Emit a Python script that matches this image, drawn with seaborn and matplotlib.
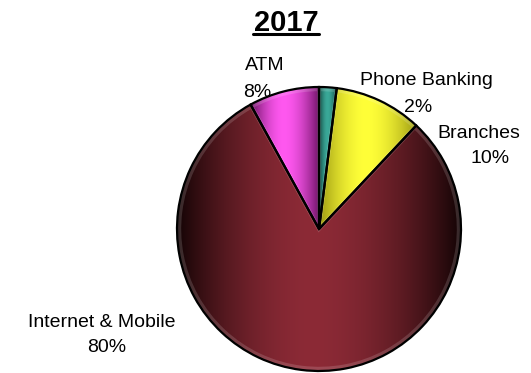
import numpy as np
import matplotlib
matplotlib.use("Agg")
import matplotlib.pyplot as plt
from matplotlib.lines import Line2D
from matplotlib.patches import Wedge
import seaborn as sns

# Channel shares for 2017 (percent)
title = "2017"
channels = ["Phone Banking", "Branches", "Internet & Mobile", "ATM"]
shares = [2, 10, 80, 8]

# Light / dark ends of each slice's shading
light_colors = ["#3aa898", "#ffff38", "#8c2a36", "#ff58f0"]
dark_colors = ["#10403a", "#9a9812", "#140405", "#6a1062"]

sns.set_theme(style="white")
plt.rcParams["font.family"] = ["Liberation Sans", "DejaVu Sans"]

W, H = 531, 373
fig = plt.figure(figsize=(W / 100, H / 100), dpi=100)
fig.patch.set_facecolor("white")

# pie placement in pixels (centre and radius)
cx, cy, r = 319, 229, 142
ax = fig.add_axes([(cx - r) / W, (H - cy - r) / H, 2 * r / W, 2 * r / H])
ax.axis("off")

wedges, _ = ax.pie(
    shares,
    startangle=90,
    counterclock=False,
    radius=1,
    colors=light_colors,
    wedgeprops=dict(edgecolor="black", linewidth=1.6),
)
ax.set_xlim(-1, 1)
ax.set_ylim(-1, 1)
ax.set_aspect("equal")
ax.set_autoscale_on(False)


def hex_rgb(h):
    return np.array(matplotlib.colors.to_rgb(h))


# horizontal dark-light-dark shading clipped to each wedge
for w, lc, dc in zip(wedges, light_colors, dark_colors):
    bb = w.get_path().get_extents()
    n = 256
    t = np.linspace(0, 1, n)
    c = 0.48
    d = np.where(t < c, (c - t) / c, (t - c) / (1 - c))
    k = np.clip(1 - d ** 1.8, 0, 1)
    col = hex_rgb(dc)[None, :] + (hex_rgb(lc) - hex_rgb(dc))[None, :] * k[:, None]
    img = col[None, :, :]
    im = ax.imshow(img, extent=[bb.x0, bb.x1, bb.y0, bb.y1], aspect="auto",
                   interpolation="bilinear", zorder=2)
    im.set_clip_path(w)
    w.set_facecolor("none")
    w.set_zorder(4)
    # soft inner bevel
    ax.add_patch(Wedge(w.center, w.r * 0.985, w.theta1, w.theta2,
                       facecolor="none", edgecolor=(1, 1, 1, 0.15),
                       linewidth=3, zorder=3, clip_path=w))

ax.set_xlim(-1, 1)
ax.set_ylim(-1, 1)

# label placement: (x centre, baseline) in pixels for name and value lines
label_pos = {
    "ATM": ((265, 70), (257, 97)),
    "Phone Banking": ((426, 85), (418, 112)),
    "Branches": ((479, 138), (490, 163)),
    "Internet & Mobile": ((102, 327), (107, 352)),
}

for name, val in zip(channels, shares):
    (nx, ny), (px, py) = label_pos[name]
    fig.text(nx / W, 1 - ny / H, name, ha="center", va="baseline",
             fontsize=14, color="black")
    fig.text(px / W, 1 - py / H, f"{val}%", ha="center", va="baseline",
             fontsize=14, color="black")

# underlined bold title
t = fig.text(286 / W, 1 - 31 / H, title, ha="center", va="baseline",
             fontsize=21, fontweight="bold", color="black")
fig.canvas.draw()
tb = t.get_window_extent()
uy = 1 - 34 / H
fig.add_artist(Line2D([tb.x0 / W - 0.002, tb.x1 / W + 0.002], [uy, uy],
                      transform=fig.transFigure, color="black", linewidth=2.2))

fig.savefig("out.png", dpi=100, facecolor="white")
